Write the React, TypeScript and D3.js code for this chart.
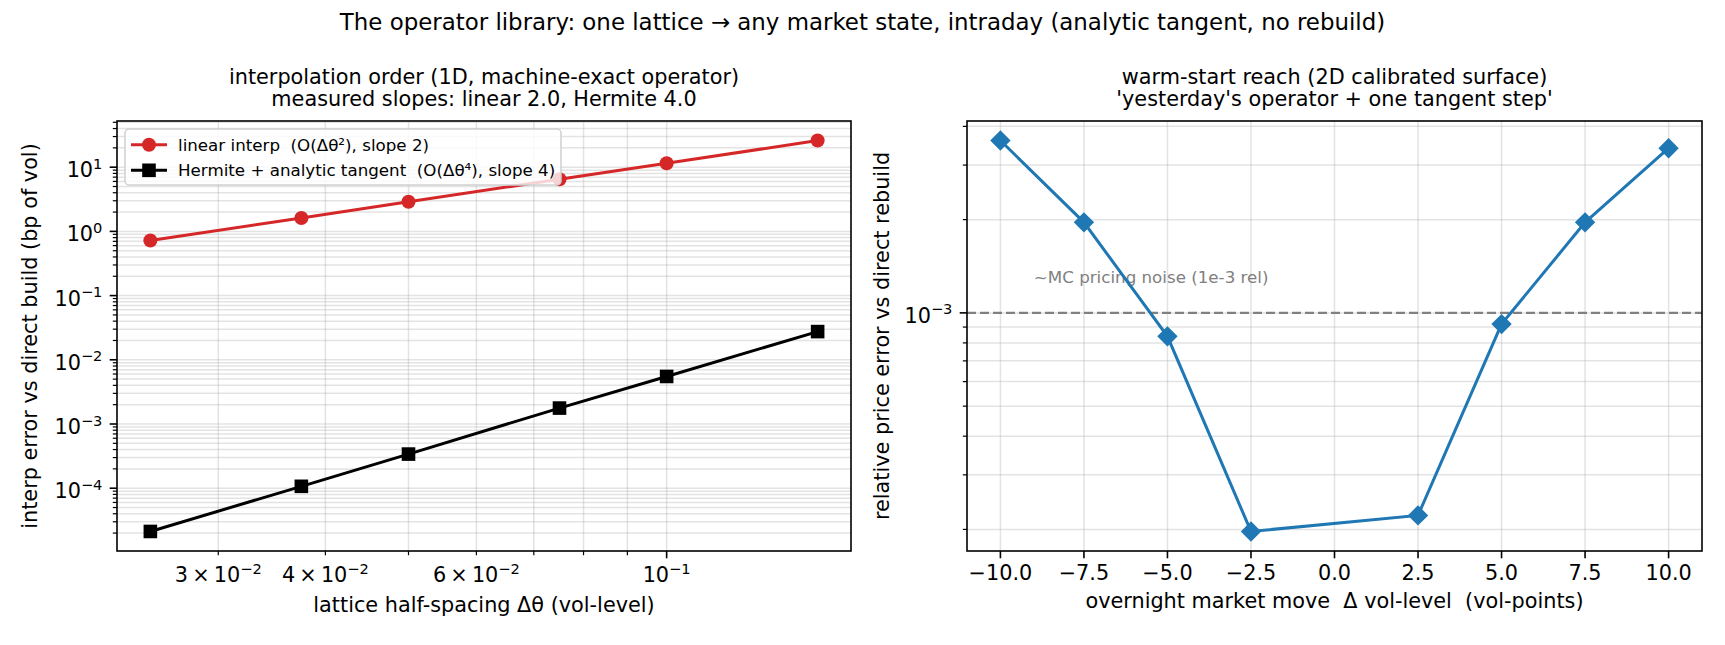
import React, { useEffect, useRef } from 'react';
import * as d3 from 'd3';

// left panel: interpolation error vs lattice half-spacing
const spacing = [0.025, 0.0375, 0.05, 0.075, 0.1, 0.15];
const linearErr = [0.72, 1.62, 2.9, 6.5, 11.5, 26];
const hermiteErr = [2.12e-5, 1.07e-4, 3.4e-4, 1.77e-3, 5.5e-3, 2.75e-2];
const spacingTicks = [0.03, 0.04, 0.06, 0.1];
const spacingTickMant = ['3', '4', '6', ''];

// right panel: warm-start error vs overnight move
const moves = [-10, -7.5, -5, -2.5, 2.5, 5, 7.5, 10];
const relErr = [3.6e-3, 1.96e-3, 8.4e-4, 1.97e-4, 2.22e-4, 9.2e-4, 1.96e-3, 3.4e-3];
const moveTicks = [-10, -7.5, -5, -2.5, 0, 2.5, 5, 7.5, 10];
const noiseLevel = 1e-3;
const noiseLabelAt = { x: -9, y: 1.25e-3 };

const FONT = '"DejaVu Sans", sans-serif';
const TICK_FS = 20.8;
const SMALL_FS = 16.7;
const GRID = '#b0b0b0';

// svg collapses double spaces, keep them with a nbsp
const keepSpaces = (s: string) => s.replace(/  /g, ' \u00a0');

// matplotlib-like 5% margin in log space
const logPad = (vals: number[]): [number, number] => {
    const lo = Math.log10(d3.min(vals)!);
    const hi = Math.log10(d3.max(vals)!);
    const p = (hi - lo) * 0.05;
    return [10 ** (lo - p), 10 ** (hi + p)];
};

const linPad = (vals: number[]): [number, number] => {
    const lo = d3.min(vals)!, hi = d3.max(vals)!;
    const p = (hi - lo) * 0.05;
    return [lo - p, hi + p];
};

// 1..9 x 10^e inside the domain
const logAllTicks = (dom: number[]) => {
    const e0 = Math.floor(Math.log10(dom[0]));
    const e1 = Math.ceil(Math.log10(dom[1]));
    const out: { v: number; major: boolean; e: number }[] = [];
    for (let e = e0; e <= e1; e++) {
        for (let k = 1; k <= 9; k++) {
            const v = k * 10 ** e;
            if (v >= dom[0] && v <= dom[1]) out.push({ v, major: k === 1, e });
        }
    }
    return out;
};

const supText = (t: any, mant: string, exp: number) => {
    t.append('tspan').text(mant ? `${mant}\u2009×\u200910` : '10');
    t.append('tspan')
        .attr('dy', -8.5)
        .attr('font-size', 14.6)
        .text(String(exp).replace('-', '−'));
};

const App: React.FC = () => {
    const ref = useRef<SVGSVGElement>(null);

    useEffect(() => {
        document.body.style.margin = '0';
        const svg = d3.select(ref.current);
        svg.selectAll('*').remove();

        svg.append('rect').attr('width', 1725).attr('height', 645).attr('fill', 'white');

        svg.append('text')
            .attr('x', 862.5).attr('y', 30)
            .attr('text-anchor', 'middle')
            .attr('font-size', 22.9)
            .text('The operator library: one lattice → any market state, intraday (analytic tangent, no rebuild)');

        // ---------- left panel ----------
        const L = { x0: 117, x1: 851, y0: 121, y1: 551 };
        const xL = d3.scaleLog().domain(logPad(spacing)).range([L.x0, L.x1]);
        const yL = d3.scaleLog().domain(logPad([...linearErr, ...hermiteErr])).range([L.y1, L.y0]);
        const gL = svg.append('g');

        const yTicksL = logAllTicks(yL.domain());
        const xTicksL = logAllTicks(xL.domain());

        gL.selectAll('line.hg').data(yTicksL).enter().append('line')
            .attr('x1', L.x0).attr('x2', L.x1)
            .attr('y1', d => yL(d.v)).attr('y2', d => yL(d.v))
            .attr('stroke', GRID).attr('stroke-opacity', 0.35).attr('stroke-width', 1.5);
        gL.selectAll('line.vg').data(xTicksL).enter().append('line')
            .attr('y1', L.y0).attr('y2', L.y1)
            .attr('x1', d => xL(d.v)).attr('x2', d => xL(d.v))
            .attr('stroke', GRID).attr('stroke-opacity', 0.35).attr('stroke-width', 1.5);

        const lineL = d3.line<number>().x((_, i) => xL(spacing[i]));
        gL.append('path')
            .attr('d', lineL.y(d => yL(d))(linearErr))
            .attr('fill', 'none').attr('stroke', '#d62728').attr('stroke-width', 3);
        gL.selectAll('circle.lin').data(linearErr).enter().append('circle')
            .attr('cx', (_, i) => xL(spacing[i])).attr('cy', d => yL(d))
            .attr('r', 7).attr('fill', '#d62728');

        gL.append('path')
            .attr('d', lineL.y(d => yL(d))(hermiteErr))
            .attr('fill', 'none').attr('stroke', 'black').attr('stroke-width', 3);
        gL.selectAll('rect.her').data(hermiteErr).enter().append('rect')
            .attr('x', (_, i) => xL(spacing[i]) - 6.8).attr('y', d => yL(d) - 6.8)
            .attr('width', 13.6).attr('height', 13.6).attr('fill', 'black');

        // legend
        const lg = gL.append('g');
        lg.append('rect')
            .attr('x', 125).attr('y', 129).attr('width', 436).attr('height', 56).attr('rx', 4)
            .attr('fill', 'white').attr('fill-opacity', 0.8)
            .attr('stroke', '#d0d0d0').attr('stroke-width', 1.5);
        const items = [
            { label: 'linear interp  (O(Δθ²), slope 2)', color: '#d62728', shape: 'circle' },
            { label: 'Hermite + analytic tangent  (O(Δθ⁴), slope 4)', color: 'black', shape: 'square' },
        ];
        items.forEach((it, i) => {
            const cy = 144.7 + i * 25.6;
            lg.append('line').attr('x1', 131).attr('x2', 167).attr('y1', cy).attr('y2', cy)
                .attr('stroke', it.color).attr('stroke-width', 3);
            if (it.shape === 'circle') {
                lg.append('circle').attr('cx', 149).attr('cy', cy).attr('r', 7).attr('fill', it.color);
            } else {
                lg.append('rect').attr('x', 149 - 6.8).attr('y', cy - 6.8)
                    .attr('width', 13.6).attr('height', 13.6).attr('fill', it.color);
            }
            lg.append('text').attr('x', 178).attr('y', cy + 6)
                .attr('font-size', SMALL_FS).text(keepSpaces(it.label));
        });

        // spines
        gL.append('rect').attr('x', L.x0).attr('y', L.y0)
            .attr('width', L.x1 - L.x0).attr('height', L.y1 - L.y0)
            .attr('fill', 'none').attr('stroke', 'black').attr('stroke-width', 1.6);

        // ticks
        gL.selectAll('line.yt').data(yTicksL).enter().append('line')
            .attr('x1', d => L.x0 - (d.major ? 7.3 : 4.2)).attr('x2', L.x0)
            .attr('y1', d => yL(d.v)).attr('y2', d => yL(d.v))
            .attr('stroke', 'black').attr('stroke-width', d => (d.major ? 1.6 : 1.2));
        gL.selectAll('line.xt').data(xTicksL).enter().append('line')
            .attr('y1', L.y1).attr('y2', d => L.y1 + (d.major ? 7.3 : 4.2))
            .attr('x1', d => xL(d.v)).attr('x2', d => xL(d.v))
            .attr('stroke', 'black').attr('stroke-width', d => (d.major ? 1.6 : 1.2));

        yTicksL.filter(d => d.major).forEach(d => {
            const t = gL.append('text').attr('x', L.x0 - 14.6).attr('y', yL(d.v) + 10)
                .attr('text-anchor', 'end').attr('font-size', TICK_FS);
            supText(t, '', d.e);
        });
        spacingTicks.forEach((v, i) => {
            const t = gL.append('text').attr('x', xL(v)).attr('y', 582)
                .attr('text-anchor', 'middle').attr('font-size', TICK_FS);
            supText(t, spacingTickMant[i], Math.floor(Math.log10(v) + 1e-9));
        });

        gL.append('text').attr('x', (L.x0 + L.x1) / 2).attr('y', 612)
            .attr('text-anchor', 'middle').attr('font-size', TICK_FS)
            .text('lattice half-spacing Δθ (vol-level)');
        gL.append('text').attr('transform', `translate(37, ${(L.y0 + L.y1) / 2}) rotate(-90)`)
            .attr('text-anchor', 'middle').attr('font-size', TICK_FS)
            .text('interp error vs direct build (bp of vol)');
        gL.append('text').attr('x', (L.x0 + L.x1) / 2).attr('y', 84)
            .attr('text-anchor', 'middle').attr('font-size', TICK_FS)
            .text('interpolation order (1D, machine-exact operator)');
        gL.append('text').attr('x', (L.x0 + L.x1) / 2).attr('y', 106)
            .attr('text-anchor', 'middle').attr('font-size', TICK_FS)
            .text('measured slopes: linear 2.0, Hermite 4.0');

        // ---------- right panel ----------
        const R = { x0: 967, x1: 1702, y0: 121, y1: 551 };
        const xR = d3.scaleLinear().domain(linPad(moves)).range([R.x0, R.x1]);
        const yR = d3.scaleLog().domain(logPad(relErr)).range([R.y1, R.y0]);
        const gR = svg.append('g');
        const yTicksR = logAllTicks(yR.domain());

        gR.selectAll('line.hg').data(yTicksR).enter().append('line')
            .attr('x1', R.x0).attr('x2', R.x1)
            .attr('y1', d => yR(d.v)).attr('y2', d => yR(d.v))
            .attr('stroke', GRID).attr('stroke-opacity', 0.35).attr('stroke-width', 1.5);
        gR.selectAll('line.vg').data(moveTicks).enter().append('line')
            .attr('y1', R.y0).attr('y2', R.y1)
            .attr('x1', d => xR(d)).attr('x2', d => xR(d))
            .attr('stroke', GRID).attr('stroke-opacity', 0.35).attr('stroke-width', 1.5);

        gR.append('line')
            .attr('x1', R.x0).attr('x2', R.x1)
            .attr('y1', yR(noiseLevel)).attr('y2', yR(noiseLevel))
            .attr('stroke', '#808080').attr('stroke-width', 2.2).attr('stroke-dasharray', '9,4');
        gR.append('text').attr('x', xR(noiseLabelAt.x)).attr('y', yR(noiseLabelAt.y))
            .attr('font-size', SMALL_FS).attr('fill', '#808080')
            .text('~MC pricing noise (1e-3 rel)');

        const lineR = d3.line<number>().x((_, i) => xR(moves[i])).y(d => yR(d));
        gR.append('path').attr('d', lineR(relErr))
            .attr('fill', 'none').attr('stroke', '#1f77b4').attr('stroke-width', 3);
        gR.selectAll('path.dia').data(relErr).enter().append('path')
            .attr('d', d3.symbol().type(d3.symbolSquare).size(14.4 * 14.4)()!)
            .attr('transform', (d, i) => `translate(${xR(moves[i])},${yR(d)}) rotate(45)`)
            .attr('fill', '#1f77b4');

        gR.append('rect').attr('x', R.x0).attr('y', R.y0)
            .attr('width', R.x1 - R.x0).attr('height', R.y1 - R.y0)
            .attr('fill', 'none').attr('stroke', 'black').attr('stroke-width', 1.6);

        gR.selectAll('line.yt').data(yTicksR).enter().append('line')
            .attr('x1', d => R.x0 - (d.major ? 7.3 : 4.2)).attr('x2', R.x0)
            .attr('y1', d => yR(d.v)).attr('y2', d => yR(d.v))
            .attr('stroke', 'black').attr('stroke-width', d => (d.major ? 1.6 : 1.2));
        gR.selectAll('line.xt').data(moveTicks).enter().append('line')
            .attr('y1', R.y1).attr('y2', R.y1 + 7.3)
            .attr('x1', d => xR(d)).attr('x2', d => xR(d))
            .attr('stroke', 'black').attr('stroke-width', 1.6);

        yTicksR.filter(d => d.major).forEach(d => {
            const t = gR.append('text').attr('x', R.x0 - 14.6).attr('y', yR(d.v) + 10)
                .attr('text-anchor', 'end').attr('font-size', TICK_FS);
            supText(t, '', d.e);
        });
        gR.selectAll('text.xl').data(moveTicks).enter().append('text')
            .attr('x', d => xR(d)).attr('y', 580)
            .attr('text-anchor', 'middle').attr('font-size', TICK_FS)
            .text(d => d3.format('.1f')(d).replace('-', '−'));

        gR.append('text').attr('x', (R.x0 + R.x1) / 2).attr('y', 608)
            .attr('text-anchor', 'middle').attr('font-size', TICK_FS)
            .text(keepSpaces('overnight market move  Δ vol-level  (vol-points)'));
        gR.append('text').attr('transform', `translate(888.5, ${(R.y0 + R.y1) / 2}) rotate(-90)`)
            .attr('text-anchor', 'middle').attr('font-size', TICK_FS)
            .text('relative price error vs direct rebuild');
        gR.append('text').attr('x', (R.x0 + R.x1) / 2).attr('y', 84)
            .attr('text-anchor', 'middle').attr('font-size', TICK_FS)
            .text('warm-start reach (2D calibrated surface)');
        gR.append('text').attr('x', (R.x0 + R.x1) / 2).attr('y', 106)
            .attr('text-anchor', 'middle').attr('font-size', TICK_FS)
            .text("'yesterday's operator + one tangent step'");
    }, []);

    return (
        <svg
            ref={ref}
            width={1725}
            height={645}
            style={{ display: 'block', fontFamily: FONT }}
        />
    );
};

export default App;
